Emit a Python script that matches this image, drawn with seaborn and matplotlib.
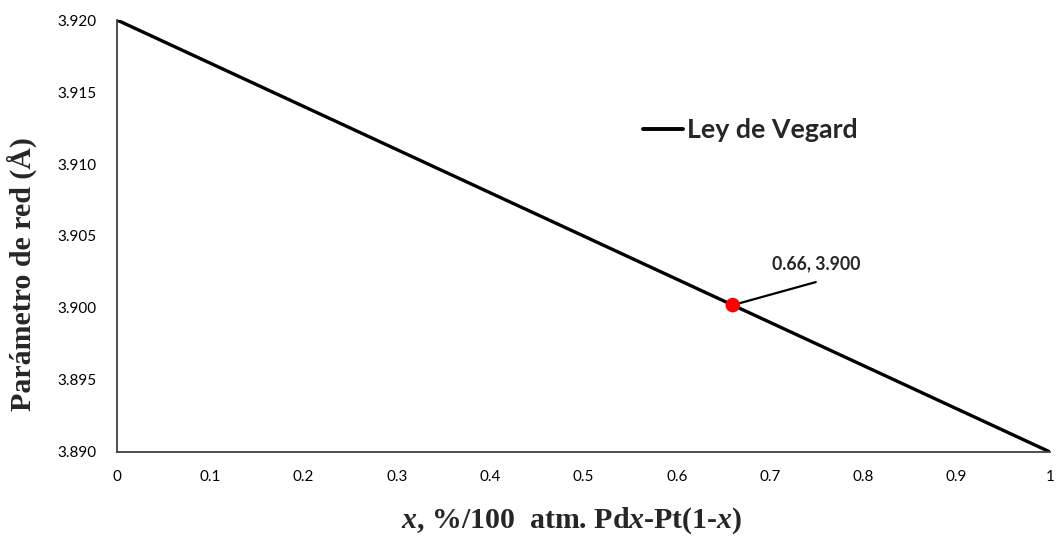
import matplotlib
matplotlib.use("Agg")
import matplotlib.pyplot as plt
import seaborn as sns
import pandas as pd

# Vegard's law between Pt (x=0) and Pd (x=1)
composition = [0.0, 1.0]
lattice_param = [3.920, 3.890]

# Measured alloy point
sample_x = [0.66]
sample_a = [3.9002]

x_ticks = [0.0, 0.1, 0.2, 0.3, 0.4, 0.5, 0.6, 0.7, 0.8, 0.9, 1.0]
x_tick_labels = ["0", "0.1", "0.2", "0.3", "0.4", "0.5", "0.6", "0.7", "0.8", "0.9", "1"]
y_ticks = [3.890, 3.895, 3.900, 3.905, 3.910, 3.915, 3.920]

sns.set_theme(style="white")
plt.rcParams["font.family"] = ["Lato", "DejaVu Sans"]
plt.rcParams["mathtext.fontset"] = "custom"
plt.rcParams["mathtext.it"] = "Liberation Serif:italic:bold"
plt.rcParams["mathtext.rm"] = "Liberation Serif:bold"

line_df = pd.DataFrame({"x": composition, "a": lattice_param, "serie": "Ley de Vegard"})
point_df = pd.DataFrame({"x": sample_x, "a": sample_a})

fig = plt.figure(figsize=(10.56, 5.38), dpi=100)
ax = fig.add_axes([0.1108, 0.1599, 0.8835, 0.8029])

sns.lineplot(data=line_df, x="x", y="a", hue="serie", palette=["black"],
             linewidth=2.4, ax=ax, legend=True)
sns.scatterplot(data=point_df, x="x", y="a", color="#ff0000", s=110,
                edgecolor="none", zorder=5, ax=ax, legend=False)

ax.set_xlim(0, 1)
ax.set_ylim(3.890, 3.920)
ax.set_xticks(x_ticks)
ax.set_xticklabels(x_tick_labels)
ax.set_yticks(y_ticks)
ax.set_yticklabels([f"{v:.3f}" for v in y_ticks])
ax.tick_params(axis="both", length=0, labelsize=11, colors="black")
ax.tick_params(axis="x", pad=13)
ax.tick_params(axis="y", pad=15)

for side in ["top", "right"]:
    ax.spines[side].set_visible(False)
for side in ["left", "bottom"]:
    ax.spines[side].set_color("#404040")
    ax.spines[side].set_linewidth(1.3)

ax.set_xlabel(r"$x$, %/100  atm. Pd$x$-Pt(1-$x$)",
              family="Liberation Serif", fontweight="bold", fontsize=21.5)
ax.set_ylabel("Parámetro de red (Å)", family="Liberation Serif",
              fontweight="bold", fontsize=21.5)
ax.xaxis.set_label_coords(0.4877, -0.1227)
ax.yaxis.set_label_coords(-0.0857, 0.412)

# Leader line and data label for the alloy point
ax.annotate("", xy=(sample_x[0], sample_a[0]), xytext=(0.749, 3.9018),
            arrowprops=dict(arrowstyle="-", color="black", lw=1.6,
                            shrinkA=0, shrinkB=0))
ax.text(0.702, 3.9025, f"{sample_x[0]:.2f}, {sample_a[0]:.3f}",
        fontsize=12.7, fontweight="bold", ha="left", va="bottom")

leg = ax.legend(loc="center left", bbox_to_anchor=(0.564, 0.745), frameon=False,
                handlelength=1.5, handletextpad=0.12, borderpad=0, borderaxespad=0,
                prop={"weight": "bold", "size": 19.3})
for h in leg.get_lines():
    h.set_linewidth(2.8)

fig.savefig("out.png", dpi=100)
